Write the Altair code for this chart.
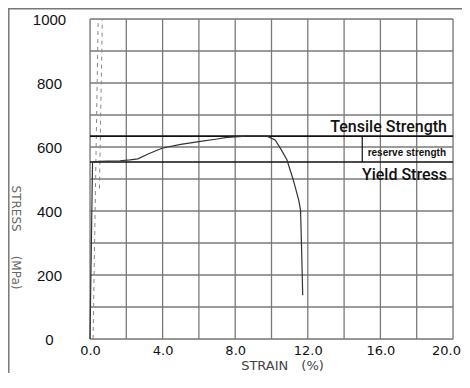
import altair as alt
import pandas as pd

# Stress-strain curve (strain %, stress MPa)
strain = [0.0, 0.14, 0.5, 1.0, 1.65, 2.2, 2.64, 3.2, 4.0, 5.0, 6.0, 7.0, 7.55,
          8.6, 9.75, 10.2, 10.5, 10.85, 11.2, 11.5, 11.6, 11.66, 11.72]
stress = [0, 553, 555, 556, 557, 560, 563, 578, 597, 608, 617, 625, 630,
          634, 634, 622, 595, 560, 497, 434, 403, 278, 137]

tensile_strength = 634
yield_stress = 553
reserve_x = 15.0

# dashed offset lines near the origin
offset_strain = [0.17, 0.45, 0.52, 0.68]
offset_stress = [0, 1000, 470, 1000]
offset_group = ["a", "a", "b", "b"]

x_ticks = [0, 2, 4, 6, 8, 10, 12, 14, 16, 18, 20]
y_ticks = [0, 100, 200, 300, 400, 500, 600, 700, 800, 900, 1000]

labels = ["Tensile Strength", "reserve strength", "Yield Stress"]

curve = pd.DataFrame({"strain": strain, "stress": stress, "i": list(range(len(strain)))})
offs = pd.DataFrame({"strain": offset_strain, "stress": offset_stress, "g": offset_group})
levels = pd.DataFrame({"stress": [tensile_strength, yield_stress]})
ann = pd.DataFrame({
    "strain": [20, 20, 20],
    "stress": [tensile_strength, (tensile_strength + yield_stress) / 2, yield_stress],
    "text": labels,
})
res = pd.DataFrame({"strain": [reserve_x], "lo": [yield_stress], "hi": [tensile_strength]})
xg = pd.DataFrame({"strain": x_ticks})
yg = pd.DataFrame({"stress": y_ticks})

W, H = 363, 320

xs = alt.Scale(domain=[0, 20], nice=False, zero=False)
ys = alt.Scale(domain=[0, 1000], nice=False)

x_axis = alt.Axis(
    values=x_ticks, labelExpr="datum.value % 4 == 0 ? format(datum.value, '.1f') : ''",
    title="STRAIN\u2003(%)", ticks=False, grid=False, domain=False, labelPadding=5,
    labelFont="DejaVu Sans", labelFontSize=13, labelColor="#111", labelAlign="center",
    labelOffset={"condition": {"test": "datum.value >= 20", "value": -7}, "value": 0},
    titleFont="DejaVu Sans", titleFontSize=13, titleFontWeight="normal", titleColor="#444",
    titleX=192, titleY=26, titleAlign="center", titleBaseline="middle",
    labelOverlap=False, labelFlush=False,
)
y_axis = alt.Axis(
    values=y_ticks, labelExpr="datum.value % 200 == 0 ? format(datum.value, 'd') : ''",
    title="STRESS\u2003\u2003(MPa)", ticks=False, grid=False, domain=False, labelPadding=41,
    labelAlign="center", labelBaseline="middle", labelFont="Liberation Sans",
    labelFontSize=15, labelColor="#111",
    titleFont="DejaVu Sans", titleFontSize=12, titleFontWeight="normal", titleColor="#666",
    titleAngle=90, titleX=-75, titleY=218, titleAlign="center", titleBaseline="middle",
    labelOverlap=False, labelFlush=False,
)

X = lambda f: alt.X(f, scale=xs, axis=x_axis)
Y = lambda f: alt.Y(f, scale=ys, axis=y_axis)

grid_x = alt.Chart(xg).mark_rule(color="#7a7a7a", strokeWidth=1.3).encode(x=X("strain:Q"))
grid_y = alt.Chart(yg).mark_rule(color="#7a7a7a", strokeWidth=1.3).encode(y=Y("stress:Q"))

base_line = alt.Chart(curve).mark_line(color="#333", strokeWidth=1.2).encode(
    x=X("strain:Q"), y=Y("stress:Q"), order="i:Q",
)

dashed = alt.Chart(offs).mark_line(color="#888", strokeWidth=1, strokeDash=[4, 4]).encode(
    x=X("strain:Q"), y=Y("stress:Q"), detail="g:N"
)

level_rules = alt.Chart(levels).mark_rule(color="#111", strokeWidth=1.6).encode(
    y=Y("stress:Q")
)

res_rule = alt.Chart(res).mark_rule(color="#111", strokeWidth=1.2).encode(
    x=X("strain:Q"), y=Y("lo:Q"), y2="hi:Q"
)

big_font = "Liberation Sans Narrow, Roboto, Liberation Sans"
t_tensile = alt.Chart(ann.iloc[[0]]).mark_text(
    align="right", baseline="alphabetic", dx=-6, dy=-4, font=big_font, fontSize=16,
    fontWeight=500, color="#111"
).encode(x=X("strain:Q"), y=Y("stress:Q"), text="text:N")
t_reserve = alt.Chart(ann.iloc[[1]]).mark_text(
    align="right", baseline="middle", dx=-7, dy=4, font="Liberation Sans", fontSize=10,
    fontWeight="bold", color="#111"
).encode(x=X("strain:Q"), y=Y("stress:Q"), text="text:N")
t_yield = alt.Chart(ann.iloc[[2]]).mark_text(
    align="right", baseline="alphabetic", dx=-6, dy=18, font=big_font, fontSize=16,
    fontWeight=500, color="#111"
).encode(x=X("strain:Q"), y=Y("stress:Q"), text="text:N")

# outer picture frame (top and left edges)
one = pd.DataFrame({"k": [0]})
frame_left = alt.Chart(one).mark_rule(color="#777", strokeWidth=1.5, clip=False).encode(
    x=alt.value(-81.2), y=alt.value(-10.3), y2=alt.value(400)
)
frame_top = alt.Chart(one).mark_rule(color="#777", strokeWidth=1.5, clip=False).encode(
    x=alt.value(-82), x2=alt.value(420), y=alt.value(-10.3)
)

chart = alt.layer(
    grid_x, grid_y, frame_left, frame_top, dashed, level_rules, res_rule, base_line,
    t_tensile, t_reserve, t_yield
).properties(
    width=W, height=H,
    autosize=alt.AutoSizeParams(type="none"),
    padding={"left": 82, "top": 11, "right": 9, "bottom": 34},
).configure_view(stroke=None).configure(background="white")

chart.save("out.html", embed_options={"renderer": "svg", "actions": False})
